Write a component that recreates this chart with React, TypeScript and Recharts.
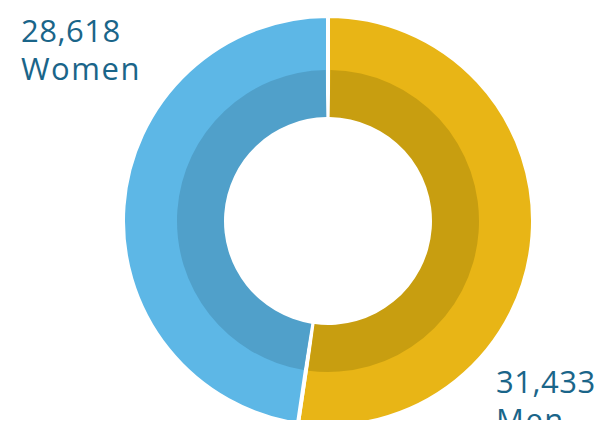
import { PieChart, Pie, Cell } from "recharts";

const labels = ["Men", "Women"];
const values = [31433, 28618];
const outerColors = ["#E8B516", "#5DB7E6"];
const innerColors = ["#C89E10", "#50A0CA"];

const data = labels.map((name, i) => ({ name, value: values[i] }));

const TEXT_COLOR = "#1A6589";
const GAP = 1.8; // degrees between the darker inner sectors

export default function App() {
  return (
    <div style={{ position: "relative", width: 603, height: 428, margin: -8, background: "#fff" }}>
      <PieChart width={603} height={428} margin={{ top: 0, right: 0, bottom: 0, left: 0 }}>
        {/* full ring, white stroke gives the radial separators */}
        <Pie
          data={data}
          dataKey="value"
          cx={328}
          cy={221}
          outerRadius={205}
          innerRadius={104}
          startAngle={90}
          endAngle={-270}
          stroke="#fff"
          strokeWidth={4}
          isAnimationActive={false}
        >
          {data.map((d, i) => (
            <Cell key={d.name} fill={outerColors[i]} />
          ))}
        </Pie>
        {/* darker inner band */}
        <Pie
          data={data}
          dataKey="value"
          cx={328}
          cy={221}
          outerRadius={151}
          innerRadius={104}
          startAngle={90 - GAP / 2}
          endAngle={-270 - GAP / 2}
          paddingAngle={GAP}
          stroke="none"
          isAnimationActive={false}
        >
          {data.map((d, i) => (
            <Cell key={d.name} fill={innerColors[i]} />
          ))}
        </Pie>
      </PieChart>
      <svg
        width={603}
        height={428}
        style={{ position: "absolute", left: 0, top: 0, pointerEvents: "none" }}
      >
        <g fontFamily="'Open Sans', sans-serif" fontSize={31} letterSpacing={0.5} fill={TEXT_COLOR}>
          <text x={21} y={42}>{values[1].toLocaleString("en-US")}</text>
          <text x={21} y={80} letterSpacing={1.5}>{labels[1]}</text>
          <text x={496} y={393}>{values[0].toLocaleString("en-US")}</text>
          <text x={496} y={431} letterSpacing={1.5}>{labels[0]}</text>
        </g>
      </svg>
    </div>
  );
}
